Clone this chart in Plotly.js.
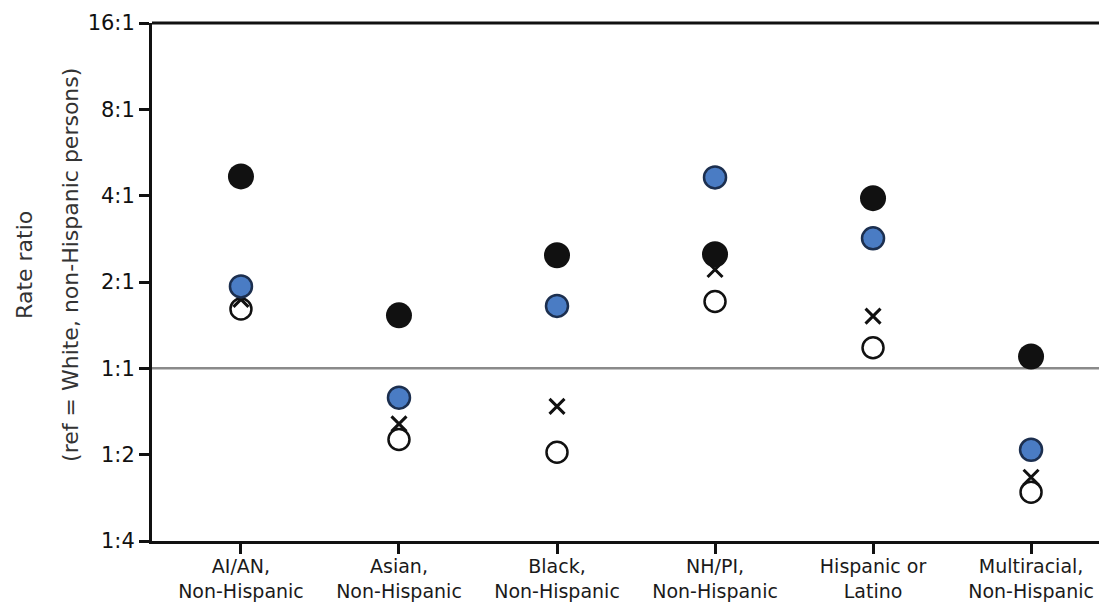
<!DOCTYPE html>
<html>
<head>
<meta charset="utf-8">
<script src="https://cdn.plot.ly/plotly-3.0.1.min.js"></script>
<style>
html,body{margin:0;padding:0;background:#fff;}
#chart{width:1099px;height:614px;}
</style>
</head>
<body>
<div id="chart"></div>
<script>
// Categories (x-axis)
var categories = ["AI/AN,<br>Non-Hispanic", "Asian,<br>Non-Hispanic", "Black,<br>Non-Hispanic",
                  "NH/PI,<br>Non-Hispanic", "Hispanic or<br>Latino", "Multiracial,<br>Non-Hispanic"];

// Series values (rate ratios, ref = White, non-Hispanic persons)
var blackFilled = [4.67, 1.53, 2.48, 2.50, 3.92, 1.10];
var blueFilled  = [1.93, 0.79, 1.65, 4.63, 2.84, 0.52];
var crossMarks  = [1.74, 0.64, 0.737, 2.21, 1.52, 0.417];
var openCircles = [1.61, 0.565, 0.51, 1.71, 1.18, 0.37];

// Y tick values and labels
var yTickVals = [0.25, 0.5, 1, 2, 4, 8, 16];
var yTickText = ["1:4", "1:2", "1:1", "2:1", "4:1", "8:1", "16:1"];

// Y-axis title lines
var yTitleLines = ["Rate ratio", "(ref = White, non-Hispanic persons)"];

var fam = "'DejaVu Sans', sans-serif";

var traces = [
  {x: categories, y: openCircles, type: "scatter", mode: "markers", name: "open",
   marker: {symbol: "circle", size: 21, color: "#ffffff", line: {color: "#111111", width: 2.5}},
   hoverinfo: "y"},
  {x: categories, y: crossMarks, type: "scatter", mode: "markers", name: "x",
   marker: {symbol: "x-thin-open", size: 15, color: "#111111", line: {color: "#111111", width: 3}},
   hoverinfo: "y"},
  {x: categories, y: blueFilled, type: "scatter", mode: "markers", name: "blue",
   marker: {symbol: "circle", size: 22, color: "#4a7cc4", line: {color: "#1c2f4f", width: 2.5}},
   hoverinfo: "y"},
  {x: categories, y: blackFilled, type: "scatter", mode: "markers", name: "black",
   marker: {symbol: "circle", size: 26, color: "#111111", line: {color: "#111111", width: 0}},
   hoverinfo: "y"}
];

var plotLeft = 152, plotWidth = 1099 - 152;

var layout = {
  width: 1099, height: 614,
  margin: {l: plotLeft, r: 0, t: 23, b: 73},
  paper_bgcolor: "#ffffff", plot_bgcolor: "#ffffff",
  showlegend: false,
  font: {family: fam, color: "#222222"},
  xaxis: {
    type: "category",
    range: [-0.563, 5.43],
    showgrid: false, zeroline: false,
    showline: true, linecolor: "#111111", linewidth: 3,
    ticks: "outside", ticklen: 10, tickwidth: 3, tickcolor: "#111111",
    ticklabelstandoff: -4,
    tickfont: {family: fam, size: 19, color: "#1a1a1a"},
    fixedrange: true
  },
  yaxis: {
    type: "log",
    range: [Math.log10(0.25), Math.log10(16)],
    tickvals: yTickVals, ticktext: yTickText,
    showgrid: false, zeroline: false,
    showline: true, linecolor: "#111111", linewidth: 3,
    ticks: "outside", ticklen: 10, tickwidth: 3, tickcolor: "#111111",
    tickfont: {family: fam, size: 21, color: "#111111"},
    fixedrange: true
  },
  annotations: [
    {text: yTitleLines[0], xref: "paper", yref: "paper", x: (25 - plotLeft) / plotWidth, y: 0.533,
     xanchor: "center", yanchor: "middle", textangle: -90, showarrow: false,
     font: {family: fam, size: 22, color: "#333333"}},
    {text: yTitleLines[1], xref: "paper", yref: "paper", x: (71 - plotLeft) / plotWidth, y: 0.533,
     xanchor: "center", yanchor: "middle", textangle: -90, showarrow: false,
     font: {family: fam, size: 22, color: "#333333"}}
  ],
  shapes: [
    {type: "line", xref: "paper", yref: "y", x0: 0, x1: 1, y0: 1, y1: 1,
     line: {color: "#8a8a8a", width: 2.5}, layer: "below"},
    {type: "line", xref: "paper", yref: "paper", x0: 0, x1: 1, y0: 1, y1: 1,
     line: {color: "#111111", width: 3}}
  ]
};

Plotly.newPlot("chart", traces, layout, {displayModeBar: false, staticPlot: true});
</script>
</body>
</html>
